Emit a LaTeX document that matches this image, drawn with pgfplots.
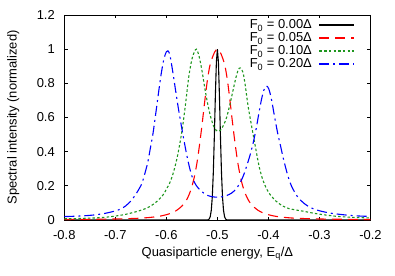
\documentclass[border=0pt]{standalone}
\usepackage{fontspec}
\setmainfont{Liberation Sans}
\usepackage{pgfplots}
\pgfplotsset{compat=1.18}
\definecolor{gpred}{RGB}{255,0,0}
\definecolor{gpgreen}{RGB}{30,150,30}
\definecolor{gpblue}{RGB}{0,0,255}
\newcommand{\gpfont}{\fontsize{13}{15.6}\selectfont}
\begin{document}
\gpfont
\begin{tikzpicture}[font=\gpfont]
\begin{axis}[name=ax, scale only axis, width=306.2bp, height=205bp,
  xmin=-0.8, xmax=-0.2, ymin=0, ymax=1.2,
  xtick={-0.8,-0.7,-0.6,-0.5,-0.4,-0.3,-0.2},
  ytick={0,0.2,0.4,0.6,0.8,1,1.2},
  tick align=inside, tick pos=both,
  xticklabel pos=lower, yticklabel pos=left,
  major tick length=3.5bp,
  tick style={black, line width=0.8bp},
  axis line style={black, line width=0.8bp},
  /pgf/number format/assume math mode=true,
  ticklabel style={font=\gpfont},
  label style={font=\gpfont},
  xticklabel style={yshift=-5.5bp},
  yticklabel style={xshift=-5bp},
  xlabel={Quasiparticle energy, E\textsubscript{q}/Δ},
  ylabel={Spectral intensity (normalized)},
  xlabel style={at={(axis description cs:0.5,-0.178)}, anchor=base},
  ylabel style={at={(axis description cs:-0.1555,0.5)}, anchor=base},
  legend style={at={(axis description cs:0.9494,0.983)}, anchor=north east,
    draw=none, fill=none, inner sep=0pt, outer sep=0pt, row sep=0pt, column sep=7bp,
    font=\gpfont,
    nodes={inner sep=0pt, text height=10.5bp, text depth=2.5bp, font=\gpfont}},
  legend cell align=right, legend plot pos=right,
  legend image code/.code={\draw[#1] (0bp,0bp) -- (35bp,0bp);},
]
\addplot[black, line width=1.1bp] coordinates {
(-0.8,0) (-0.55,0) (-0.52,0) (-0.518,0.0015) (-0.516,0.006) (-0.514,0.02) (-0.512,0.056)
(-0.510,0.135) (-0.508,0.278) (-0.506,0.487) (-0.504,0.726) (-0.502,0.923) (-0.5,1)
(-0.498,0.923) (-0.496,0.726) (-0.494,0.487) (-0.492,0.278) (-0.490,0.135) (-0.488,0.056)
(-0.486,0.02) (-0.484,0.006) (-0.482,0.0015) (-0.48,0) (-0.2,0)};
\addlegendentry{F\textsubscript{0} = 0.00Δ}
\addplot[gpred, line width=1.1bp, dash pattern=on 10bp off 6bp, smooth] coordinates {
(-0.8,0.003) (-0.75,0.004) (-0.7,0.006) (-0.66,0.0095) (-0.64,0.013) (-0.62,0.019) (-0.61,0.024)
(-0.6,0.031) (-0.59,0.041) (-0.58,0.056) (-0.57,0.08) (-0.565,0.097) (-0.56,0.12) (-0.555,0.152)
(-0.55,0.195) (-0.545,0.255) (-0.54,0.335) (-0.535,0.44) (-0.53,0.56) (-0.525,0.69) (-0.52,0.81)
(-0.515,0.9) (-0.51,0.95) (-0.505,0.985) (-0.5,1.0)
(-0.495,0.985) (-0.49,0.95) (-0.485,0.9) (-0.48,0.81) (-0.475,0.69) (-0.47,0.56) (-0.465,0.44)
(-0.46,0.335) (-0.455,0.255) (-0.45,0.195) (-0.445,0.152) (-0.44,0.12) (-0.435,0.097) (-0.43,0.08)
(-0.42,0.056) (-0.41,0.041) (-0.4,0.031) (-0.39,0.024) (-0.38,0.019) (-0.36,0.013) (-0.34,0.0095)
(-0.3,0.006) (-0.25,0.004) (-0.2,0.003)};
\addlegendentry{F\textsubscript{0} = 0.05Δ}
\addplot[gpgreen, line width=1.1bp, dash pattern=on 2.5bp off 2.2bp, smooth] coordinates {
(-0.80,0.007) (-0.78,0.008) (-0.76,0.010) (-0.74,0.012) (-0.72,0.016) (-0.70,0.023) (-0.68,0.033)
(-0.66,0.048) (-0.645,0.062) (-0.633,0.078) (-0.62,0.105) (-0.607,0.145) (-0.60,0.18) (-0.593,0.22)
(-0.587,0.27) (-0.58,0.35) (-0.574,0.44) (-0.568,0.55) (-0.562,0.69) (-0.556,0.84) (-0.550,0.94)
(-0.545,0.985) (-0.541,1.0) (-0.536,0.96) (-0.530,0.87) (-0.524,0.76) (-0.518,0.665) (-0.512,0.59)
(-0.506,0.54) (-0.500,0.52) (-0.494,0.525) (-0.488,0.555) (-0.482,0.6) (-0.476,0.67) (-0.470,0.75)
(-0.464,0.83) (-0.459,0.88) (-0.455,0.89) (-0.450,0.865) (-0.446,0.80) (-0.440,0.67) (-0.433,0.55)
(-0.425,0.42) (-0.418,0.31) (-0.411,0.235) (-0.404,0.185) (-0.397,0.15) (-0.385,0.11) (-0.372,0.082)
(-0.36,0.067) (-0.345,0.058) (-0.333,0.052) (-0.31,0.039) (-0.29,0.03) (-0.268,0.022) (-0.25,0.018)
(-0.23,0.015) (-0.2,0.012)};
\addlegendentry{F\textsubscript{0} = 0.10Δ}
\addplot[gpblue, line width=1.1bp, dash pattern=on 10bp off 4bp on 2bp off 4bp, smooth] coordinates {
(-0.80,0.02) (-0.78,0.022) (-0.76,0.025) (-0.74,0.03) (-0.72,0.039) (-0.70,0.053) (-0.69,0.064)
(-0.68,0.082) (-0.67,0.11) (-0.66,0.15) (-0.652,0.19) (-0.647,0.222) (-0.637,0.33) (-0.632,0.41)
(-0.626,0.51) (-0.619,0.663) (-0.611,0.839) (-0.605,0.94) (-0.600,0.985) (-0.597,0.99) (-0.593,0.965)
(-0.587,0.859) (-0.582,0.76) (-0.577,0.663) (-0.572,0.575) (-0.567,0.49) (-0.560,0.38) (-0.554,0.30)
(-0.548,0.24) (-0.541,0.20) (-0.534,0.176) (-0.527,0.158) (-0.521,0.146) (-0.513,0.138) (-0.505,0.134)
(-0.497,0.133) (-0.489,0.137) (-0.481,0.144) (-0.472,0.158) (-0.464,0.18) (-0.456,0.215) (-0.449,0.26)
(-0.443,0.312) (-0.436,0.38) (-0.430,0.45) (-0.424,0.535) (-0.419,0.62) (-0.414,0.70) (-0.409,0.76)
(-0.404,0.785) (-0.399,0.765) (-0.394,0.705) (-0.388,0.605) (-0.382,0.51) (-0.376,0.43) (-0.370,0.35)
(-0.362,0.26) (-0.355,0.20) (-0.347,0.155) (-0.34,0.125) (-0.327,0.09) (-0.314,0.068) (-0.30,0.054)
(-0.28,0.041) (-0.26,0.033) (-0.24,0.027) (-0.22,0.023) (-0.2,0.021)};
\addlegendentry{F\textsubscript{0} = 0.20Δ}
\end{axis}
\pgfresetboundingbox
\path[use as bounding box] (ax.south west) ++(-64.3bp,-56bp) rectangle ++(395bp,276bp);
\end{tikzpicture}
\end{document}
